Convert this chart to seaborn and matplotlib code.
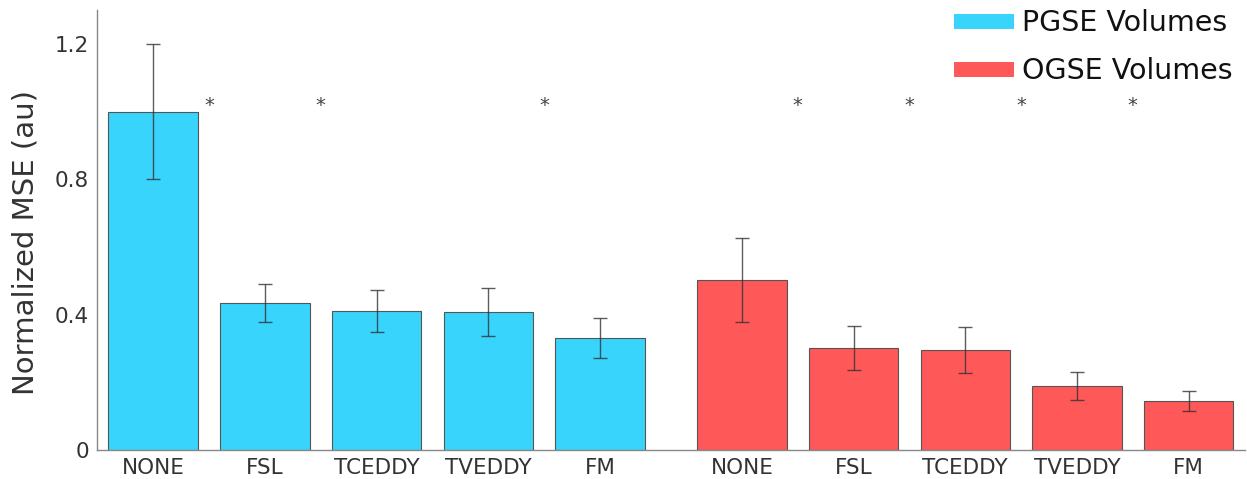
import numpy as np
import pandas as pd
import seaborn as sns
import matplotlib
matplotlib.use("Agg")
import matplotlib.pyplot as plt
from matplotlib.patches import Patch

# data
methods = ["NONE", "FSL", "TCEDDY", "TVEDDY", "FM"]
pgse_mean = [1.00, 0.435, 0.411, 0.408, 0.331]
pgse_err = [0.20, 0.056, 0.062, 0.072, 0.059]
ogse_mean = [0.503, 0.302, 0.296, 0.189, 0.145]
ogse_err = [0.125, 0.066, 0.068, 0.041, 0.030]
# significance stars sit between bar i and bar i+1 (index in the 10 bars)
star_between = [0, 1, 3, 5, 6, 7, 8]
star_y = 1.02

pos_pgse = [0, 1, 2, 3, 4]
pos_ogse = [5.27, 6.27, 7.27, 8.27, 9.27]

df = pd.DataFrame({
    "pos": pos_pgse + pos_ogse,
    "mse": pgse_mean + ogse_mean,
    "err": pgse_err + ogse_err,
    "seq": ["PGSE Volumes"] * 5 + ["OGSE Volumes"] * 5,
    "label": methods + methods,
})

colors = {"PGSE Volumes": "#38D4FC", "OGSE Volumes": "#FF5858"}

sns.set_style("white")
plt.rcParams["font.family"] = ["DejaVu Sans"]

fig = plt.figure(figsize=(12.47, 4.79), dpi=100)
ax = fig.add_axes([0.078, 0.0605, 0.92, 0.918])

sns.barplot(data=df, x="pos", y="mse", hue="seq", palette=colors,
            native_scale=True, width=0.8, dodge=False, errorbar=None,
            saturation=1, edgecolor="#555555", linewidth=0.8, legend=False, ax=ax)
ax.errorbar(df["pos"], df["mse"], yerr=df["err"], fmt="none",
            ecolor="#333333", elinewidth=1.0, capsize=5, capthick=1.0, alpha=0.8)

pos = list(df["pos"])
for i in star_between:
    ax.text((pos[i] + pos[i + 1]) / 2, star_y, "*", ha="center", va="center",
            fontsize=14, color="#444444")

ax.set_xlim(-0.5, 9.77)
ax.set_ylim(0, 1.3)
ax.set_xticks(pos)
ax.set_xticklabels(df["label"], fontsize=15.5, color="#333333")
ax.set_yticks([0, 0.4, 0.8, 1.2])
ax.set_yticklabels(["0", "0.4", "0.8", "1.2"], fontsize=15.5, color="#333333")
ax.tick_params(length=0, pad=6)
ax.set_xlabel("")
ax.set_ylabel("Normalized MSE (au)", fontsize=21, color="#333333")
ax.yaxis.set_label_coords(-0.050, 0.473)
for s in ["top", "right"]:
    ax.spines[s].set_visible(False)
for s in ["left", "bottom"]:
    ax.spines[s].set_color("#888888")
    ax.spines[s].set_linewidth(1.0)

handles = [Patch(facecolor=colors[k], edgecolor="none") for k in colors]
leg = ax.legend(handles, list(colors), loc="upper right", frameon=False,
                fontsize=20.5, handlelength=2.1, handleheight=0.45, handletextpad=0.3,
                labelspacing=0.7, borderaxespad=0.0, bbox_to_anchor=(1.0, 1.028))
for t in leg.get_texts():
    t.set_color("#111111")

plt.savefig("out.png", dpi=100)
